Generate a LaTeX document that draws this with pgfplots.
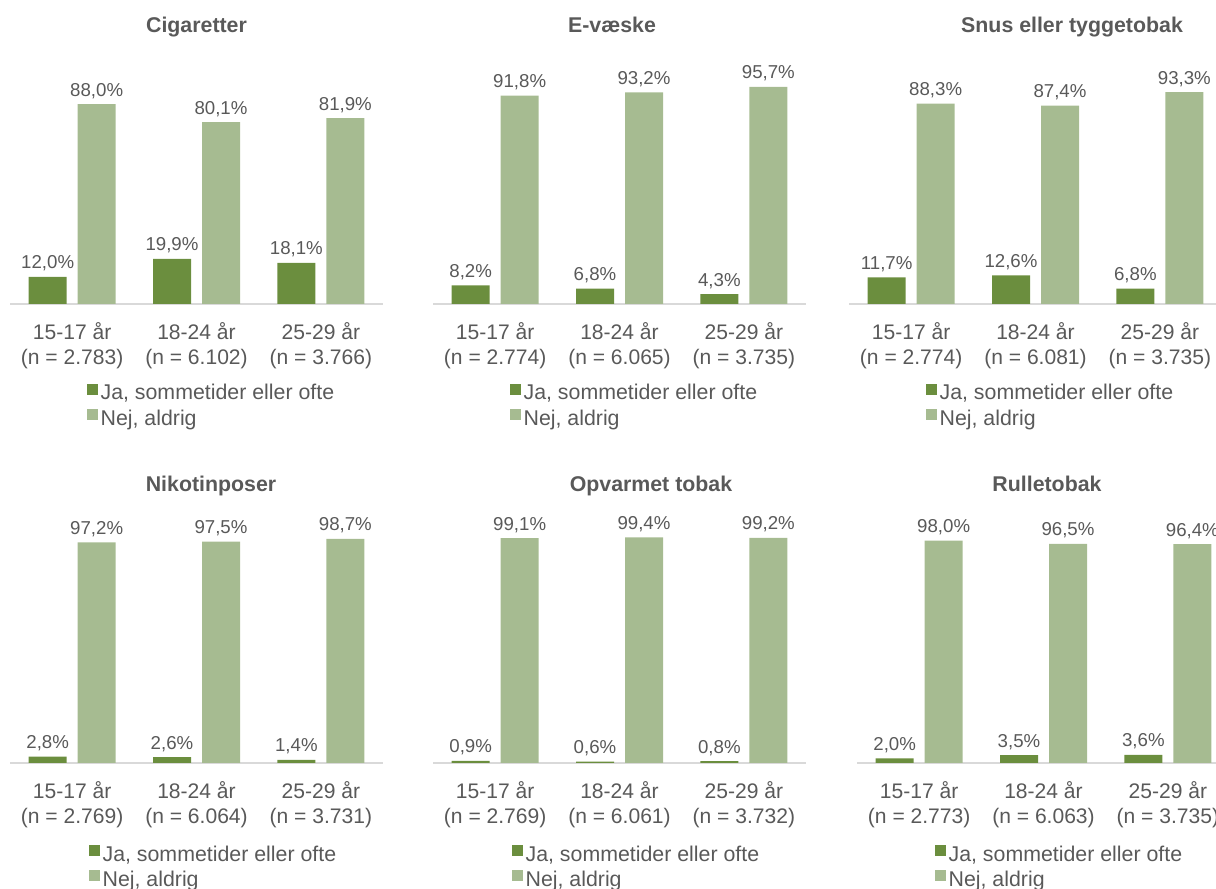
\documentclass[border=0pt]{standalone}
\usepackage{fontspec}
\setmainfont{Liberation Sans}
\usepackage{pgfplots}
\pgfplotsset{compat=1.18}
\definecolor{darkg}{HTML}{6B8E3E}
\definecolor{lightg}{HTML}{A6BB91}
\definecolor{textgrey}{HTML}{595959}
\definecolor{axisgrey}{HTML}{D9D9D9}
\pgfplotsset{
 panel/.style={
  scale only axis, width=279.75pt, height=170.25pt,
  xmin=-0.5, xmax=2.5, ymin=0, ymax=100,
  axis x line*=bottom, axis y line=none,
  x axis line style={draw=axisgrey, line width=1.1pt, -},
  xtick={0,1,2}, major tick length=0pt,
  xticklabel style={font=\fontsize{15.8}{18.75}\selectfont, text=textgrey, align=center, anchor=north, inner sep=0pt, yshift=-14pt},
  ytick=\empty,
  clip=false,
  /pgf/number format/assume math mode=true,
  ybar, bar width=28.5pt,
  nodes near coords={\pgfmathprintnumber[fixed,fixed zerofill,precision=1,use comma]{\pgfplotspointmeta}\%},
  every node near coord/.append style={font=\fontsize{14}{16}\selectfont, text=textgrey, anchor=base, inner sep=0pt, yshift=6pt},
  title style={font=\bfseries\fontsize{16}{18}\selectfont, text=textgrey, at={(0.5,1)}, anchor=base, inner sep=0pt, yshift=27.6pt},
  legend style={draw=none, fill=none, at={(axis description cs:0,0)}, anchor=north west, xshift=57.75pt, yshift=-59.75pt, inner sep=0pt, row sep=3.5pt, column sep=2pt, font=\fontsize{16}{18.75}\selectfont, text=textgrey, nodes={inner sep=0pt, text height=11pt, text depth=3.5pt}},
  legend cell align=left,
  legend image code/.code={\fill[##1] (0pt,0.3pt) rectangle (8pt,8.3pt);},
 },
 ja/.style={fill=darkg, draw=none, bar shift=-18.375pt},
 nej/.style={fill=lightg, draw=none, bar shift=18.375pt},
}
\begin{document}
\begin{tikzpicture}
\path[use as bounding box, clip] (0,0) rectangle (912pt,666pt);
% Cigaretter
\begin{axis}[panel, at={(7.5pt,438pt)}, title={Cigaretter},
  xticklabels={15-17 år\\(n = 2.783), 18-24 år\\(n = 6.102), 25-29 år\\(n = 3.766)}]
\addplot[ja] coordinates {(0,12.0) (1,19.9) (2,18.1)};
\addlegendentry{Ja, sommetider eller ofte}
\addplot[nej] coordinates {(0,88.0) (1,80.1) (2,81.9)};
\addlegendentry{Nej, aldrig}
\end{axis}
% E-vaeske
\begin{axis}[panel, at={(324.75pt,438pt)}, title={E-væske}, title style={xshift=-5.6pt},
  xticklabels={15-17 år\\(n = 2.774), 18-24 år\\(n = 6.065), 25-29 år\\(n = 3.735)}]
\addplot[ja] coordinates {(0,8.2) (1,6.8) (2,4.3)};
\addlegendentry{Ja, sommetider eller ofte}
\addplot[nej] coordinates {(0,91.8) (1,93.2) (2,95.7)};
\addlegendentry{Nej, aldrig}
\end{axis}
% Snus
\begin{axis}[panel, at={(636.75pt,438pt)}, title={Snus eller tyggetobak}, title style={xshift=27.4pt},
  xticklabels={15-17 år\\(n = 2.774), 18-24 år\\(n = 6.081), 25-29 år\\(n = 3.735)}]
\addplot[ja] coordinates {(0,11.7) (1,12.6) (2,6.8)};
\addlegendentry{Ja, sommetider eller ofte}
\addplot[nej] coordinates {(0,88.3) (1,87.4) (2,93.3)};
\addlegendentry{Nej, aldrig}
\end{axis}
% Nikotinposer
\begin{axis}[panel, at={(7.5pt,93.75pt)}, title={Nikotinposer}, title style={xshift=10.9pt},
  legend style={yshift=-1.5pt, xshift=1.5pt},
  xticklabels={15-17 år\\(n = 2.769), 18-24 år\\(n = 6.064), 25-29 år\\(n = 3.731)}]
\addplot[ja] coordinates {(0,2.8) (1,2.6) (2,1.4)};
\addlegendentry{Ja, sommetider eller ofte}
\addplot[nej] coordinates {(0,97.2) (1,97.5) (2,98.7)};
\addlegendentry{Nej, aldrig}
\end{axis}
% Opvarmet tobak
\begin{axis}[panel, at={(324.75pt,93.75pt)}, title={Opvarmet tobak}, title style={xshift=23.6pt},
  legend style={yshift=-1.5pt, xshift=1.5pt},
  xticklabels={15-17 år\\(n = 2.769), 18-24 år\\(n = 6.061), 25-29 år\\(n = 3.732)}]
\addplot[ja] coordinates {(0,0.9) (1,0.6) (2,0.8)};
\addlegendentry{Ja, sommetider eller ofte}
\addplot[nej] coordinates {(0,99.1) (1,99.4) (2,99.2)};
\addlegendentry{Nej, aldrig}
\end{axis}
% Rulletobak
\begin{axis}[panel, at={(642.75pt,93.75pt)}, title={Rulletobak}, title style={xshift=2.6pt},
  legend style={yshift=-1.5pt, xshift=0.75pt},
  xticklabels={15-17 år\\(n = 2.773), 18-24 år\\(n = 6.063), 25-29 år\\(n = 3.735)}]
\addplot[ja] coordinates {(0,2.0) (1,3.5) (2,3.6)};
\addlegendentry{Ja, sommetider eller ofte}
\addplot[nej] coordinates {(0,98.0) (1,96.5) (2,96.4)};
\addlegendentry{Nej, aldrig}
\end{axis}
\end{tikzpicture}
\end{document}
